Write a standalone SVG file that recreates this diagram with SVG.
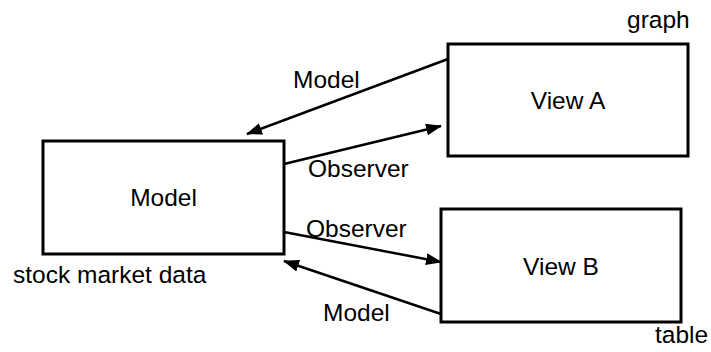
<svg xmlns="http://www.w3.org/2000/svg" width="711" height="352" viewBox="0 0 711 352">
<style>
.box{fill:#fff;stroke:#000;stroke-width:3}
.t{font-family:"Liberation Sans",Arial,sans-serif;font-size:24.5px;fill:#000}
.c{text-anchor:middle}
.edge{stroke:#000;stroke-width:2.5;fill:none;marker-end:url(#ah)}
</style>
<defs>
<marker id="ah" markerUnits="userSpaceOnUse" markerWidth="16" markerHeight="12" refX="15" refY="6" orient="auto">
<path d="M0,0 L16,6 L0,12 Z" fill="#000"/>
</marker>
</defs>
<rect width="711" height="352" fill="#fff"/>
<g id="connectors">
<line class="edge" x1="448" y1="59" x2="247" y2="134"/>
<line class="edge" x1="284" y1="164" x2="441" y2="126"/>
<line class="edge" x1="284" y1="232" x2="441" y2="262"/>
<line class="edge" x1="441" y1="314" x2="284" y2="261"/>
<text class="t" x="293" y="88">Model</text>
<text class="t" x="308" y="177">Observer</text>
<text class="t" x="306" y="237">Observer</text>
<text class="t" x="323" y="321">Model</text>
</g>
<g id="model">
<rect class="box" x="43" y="141" width="241" height="113"/>
<text class="t c" x="163.5" y="206">Model</text>
<text class="t" x="13" y="283">stock market data</text>
</g>
<g id="viewA">
<rect class="box" x="448" y="44" width="240" height="112"/>
<text class="t c" x="568" y="109">View A</text>
<text class="t" x="627" y="28">graph</text>
</g>
<g id="viewB">
<rect class="box" x="441" y="209" width="240" height="113"/>
<text class="t c" x="561" y="275">View B</text>
<text class="t" x="655" y="343">table</text>
</g>
</svg>
